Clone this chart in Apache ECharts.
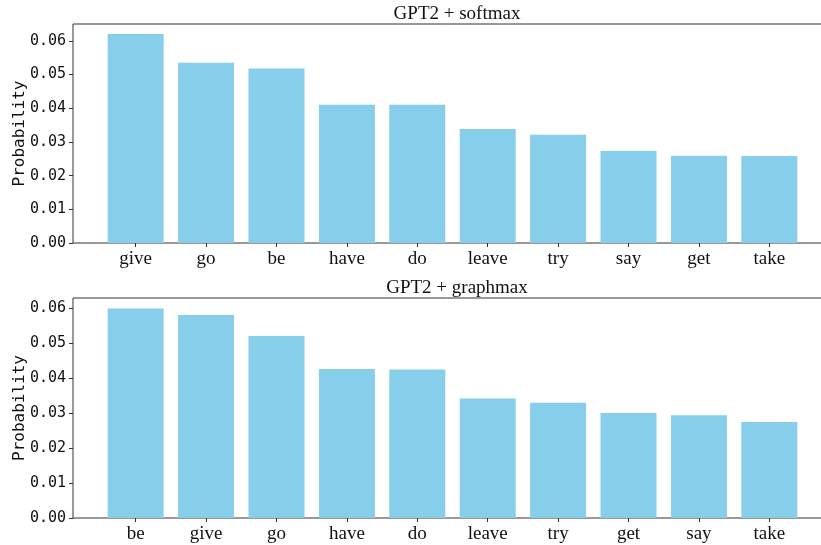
<!DOCTYPE html>
<html>
<head>
    <meta charset="utf-8">
    <title>GPT2 softmax vs graphmax</title>
    <script src="https://cdn.jsdelivr.net/npm/echarts@6/dist/echarts.min.js"></script>
    <style>
        html, body { margin: 0; padding: 0; background: #fff; }
        #chart { width: 821px; height: 545px; }
    </style>
</head>
<body>
<div id="chart"></div>
<script type="text/javascript">
    // top panel: GPT2 + softmax
    var softWords = ['give', 'go', 'be', 'have', 'do', 'leave', 'try', 'say', 'get', 'take'];
    var softProb = [0.0620, 0.0535, 0.0518, 0.0410, 0.0410, 0.0338, 0.0321, 0.0273, 0.0259, 0.0258];
    // bottom panel: GPT2 + graphmax
    var graphWords = ['be', 'give', 'go', 'have', 'do', 'leave', 'try', 'get', 'say', 'take'];
    var graphProb = [0.0600, 0.0581, 0.0521, 0.0427, 0.0425, 0.0342, 0.0330, 0.0301, 0.0294, 0.0275];
    var yTicks = [0, 0.01, 0.02, 0.03, 0.04, 0.05, 0.06];
    var xPos = [0, 1, 2, 3, 4, 5, 6, 7, 8, 9];

    var myChart = echarts.init(document.getElementById('chart'));

    function pts(vals) {
        var arr = [];
        for (var i = 0; i < vals.length; i++) {
            arr.push([xPos[i], vals[i]]);
        }
        return arr;
    }

    // x is a value axis so the frame can keep matplotlib's side margins
    function xAxisFor(idx, words) {
        return {
            gridIndex: idx,
            type: 'value',
            position: 'bottom',
            min: -0.89,
            max: 9.89,
            splitLine: {show: false},
            axisLine: {show: false, onZero: false},
            axisTick: {show: true, length: 4, customValues: xPos, lineStyle: {color: '#333'}},
            axisLabel: {
                customValues: xPos,
                margin: 7,
                color: '#111',
                fontFamily: 'Liberation Serif',
                fontSize: 19,
                formatter: function (v) { return words[Math.round(v)]; }
            }
        };
    }

    function yAxisFor(idx, top) {
        return {
            gridIndex: idx,
            type: 'value',
            position: 'left',
            min: 0,
            max: top,
            name: 'Probability',
            nameLocation: 'middle',
            nameGap: 45,
            nameMoveOverlap: false,
            nameTextStyle: {fontFamily: 'DejaVu Sans Mono', fontSize: 16, color: '#111'},
            splitLine: {show: false},
            axisLine: {show: false, onZero: false},
            axisTick: {show: true, length: 4, customValues: yTicks, lineStyle: {color: '#333'}},
            axisLabel: {
                customValues: yTicks,
                margin: 7,
                color: '#111',
                fontFamily: 'DejaVu Sans Mono',
                fontSize: 15,
                formatter: function (v) { return v.toFixed(2); }
            }
        };
    }

    var titleStyle = {fontFamily: 'Liberation Serif', fontSize: 19, fontWeight: 'normal', color: '#111'};

    var option = {
        animation: false,
        title: [
            {text: 'GPT2 + softmax', left: 452, top: 0, textAlign: 'center', textStyle: titleStyle},
            {text: 'GPT2 + graphmax', left: 452, top: 274, textAlign: 'center', textStyle: titleStyle}
        ],
        grid: [
            {left: 73, top: 24, width: 759, height: 219, outerBoundsMode: 'none',
                show: true, borderColor: '#333', borderWidth: 1},
            {left: 73, top: 298, width: 759, height: 220, outerBoundsMode: 'none',
                show: true, borderColor: '#333', borderWidth: 1}
        ],
        xAxis: [xAxisFor(0, softWords), xAxisFor(1, graphWords)],
        yAxis: [yAxisFor(0, 0.065), yAxisFor(1, 0.063)],
        series: [
            {
                name: 'softmax',
                type: 'bar',
                xAxisIndex: 0,
                yAxisIndex: 0,
                barWidth: 56,
                itemStyle: {color: '#87CEEB'},
                data: pts(softProb)
            },
            {
                name: 'graphmax',
                type: 'bar',
                xAxisIndex: 1,
                yAxisIndex: 1,
                barWidth: 56,
                itemStyle: {color: '#87CEEB'},
                data: pts(graphProb)
            }
        ]
    };

    myChart.setOption(option);
</script>
</body>
</html>
